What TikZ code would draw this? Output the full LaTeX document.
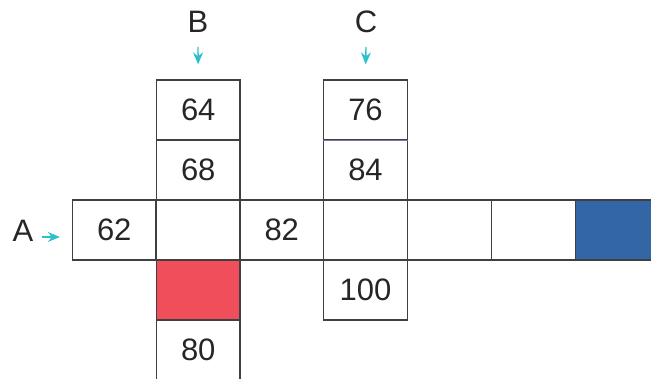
\documentclass[tikz,border=0pt]{standalone}
\usepackage{fontspec}
\setmainfont{Liberation Sans}
\usetikzlibrary{arrows.meta}
\definecolor{arrc}{HTML}{2CC0CC}
\definecolor{cellred}{HTML}{EF4E5A}
\definecolor{cellblue}{HTML}{3366A5}
\definecolor{edgec}{HTML}{404040}
\definecolor{sepc}{HTML}{7276B2}
\begin{document}
\begin{tikzpicture}[x=1pt,y=-1pt,
  cell/.style={draw=edgec,line width=1.3pt,rectangle,minimum width=83.5pt,minimum height=60pt,inner sep=0pt,font=\fontsize{31}{33}\selectfont,text=black!85},
  lab/.style={inner sep=0pt,font=\fontsize{31}{33}\selectfont,text=black!85},
  arr/.style={draw=arrc,line width=1.4pt,-{Stealth[length=12pt,width=10pt,inset=4pt]}}]
\useasboundingbox (0,0) rectangle (651,379);
% row A
\node[cell] (a0) at (114.25,230) {62};
\node[cell] (a1) at (198.25,230) {};
\node[cell] (a2) at (281.75,230) {82};
\node[cell] (a3) at (365.5,230) {};
\node[cell] (a4) at (449.5,230) {};
\node[cell] (a5) at (533.5,230) {};
\node[cell,fill=cellblue] (a6) at (617.25,230) {};
% column B
\node[cell] (b1) at (198.25,110) {64};
\node[cell] (b2) at (198.25,170) {68};
\node[cell,fill=cellred] (b4) at (198.25,290) {};
\node[cell] (b5) at (198.25,350) {80};
% column C
\node[cell] (c1) at (365.5,110) {76};
\node[cell] (c2) at (365.5,170) {84};
\node[cell] (c4) at (365.5,290) {100};
\draw[sepc,line width=1.3pt] (c1.south west) -- (c1.south east);
% labels
\node[lab] (Alab) at (23,231) {A};
\node[lab] (Blab) at (198,22) {B};
\node[lab] (Clab) at (366,22) {C};
\coordinate (As) at (42,237);
\coordinate (Bs) at (198,47);
\coordinate (Cs) at (366,47);
\draw[arr,shorten >=12pt] (As) -- (As -| a0.west);
\draw[arr,shorten >=15pt] (Bs) -- (b1.north);
\draw[arr,shorten >=15pt] (Cs) -- (c1.north);
\end{tikzpicture}
\end{document}
